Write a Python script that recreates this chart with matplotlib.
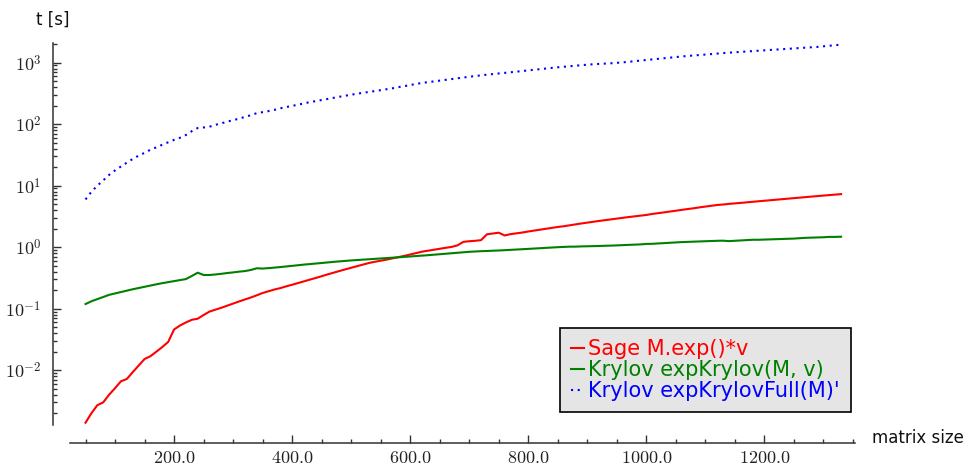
import math

import matplotlib
matplotlib.use('agg')  # headless
import matplotlib.pyplot as plt
from matplotlib.ticker import FixedLocator, FuncFormatter, LogLocator, MultipleLocator, NullFormatter

plt.rcParams['mathtext.fontset'] = 'cm'
plt.rcParams['font.family'] = ['DejaVu Sans']

# matrix sizes n = 50, 60, ..., 1330
matrix_size = list(range(50, 1331, 10))

# runtime in seconds
sage_time = [
    0.0014, 0.0020, 0.0027, 0.0030, 0.0040, 0.0051, 0.0066, 0.0072, 0.0093, 0.0119,
    0.0152, 0.0169, 0.0200, 0.0238, 0.0288, 0.0459, 0.0533, 0.0597, 0.066, 0.0687,
    0.079, 0.0897, 0.0964, 0.1035, 0.112, 0.1216, 0.131, 0.141, 0.152, 0.165,
    0.180, 0.192, 0.205, 0.216, 0.231, 0.245, 0.261, 0.277, 0.295, 0.316,
    0.337, 0.361, 0.385, 0.41, 0.436, 0.462, 0.491, 0.521, 0.553, 0.579,
    0.603, 0.628, 0.657, 0.685, 0.722, 0.761, 0.80, 0.845, 0.877, 0.91,
    0.942, 0.977, 1.01, 1.07, 1.22, 1.25, 1.27, 1.30, 1.62, 1.67,
    1.72, 1.55, 1.63, 1.68, 1.73, 1.80, 1.86, 1.93, 1.99, 2.06,
    2.13, 2.19, 2.27, 2.35, 2.43, 2.51, 2.60, 2.67, 2.75, 2.83,
    2.92, 3.01, 3.09, 3.17, 3.25, 3.34, 3.47, 3.57, 3.68, 3.80,
    3.92, 4.04, 4.17, 4.29, 4.44, 4.57, 4.71, 4.85, 4.94, 5.06,
    5.15, 5.25, 5.37, 5.47, 5.58, 5.71, 5.81, 5.94, 6.06, 6.17,
    6.29, 6.41, 6.53, 6.65, 6.78, 6.90, 7.03, 7.16, 7.29,
]

krylov_time = [
    0.119, 0.132, 0.143, 0.155, 0.168, 0.177, 0.187, 0.197, 0.207, 0.217,
    0.227, 0.238, 0.249, 0.260, 0.270, 0.281, 0.292, 0.303, 0.340, 0.385,
    0.353, 0.353, 0.360, 0.369, 0.380, 0.389, 0.400, 0.409, 0.426, 0.454,
    0.449, 0.456, 0.465, 0.475, 0.486, 0.497, 0.509, 0.521, 0.531, 0.543,
    0.553, 0.566, 0.577, 0.588, 0.601, 0.609, 0.619, 0.627, 0.636, 0.645,
    0.655, 0.665, 0.675, 0.685, 0.695, 0.706, 0.719, 0.730, 0.741, 0.755,
    0.767, 0.782, 0.796, 0.811, 0.826, 0.841, 0.851, 0.861, 0.867, 0.877,
    0.883, 0.893, 0.900, 0.914, 0.925, 0.938, 0.949, 0.963, 0.975, 0.989,
    1.00, 1.01, 1.02, 1.02, 1.03, 1.035, 1.04, 1.045, 1.055, 1.06,
    1.07, 1.08, 1.09, 1.10, 1.11, 1.13, 1.135, 1.15, 1.17, 1.18,
    1.20, 1.21, 1.22, 1.23, 1.24, 1.25, 1.26, 1.27, 1.275, 1.255,
    1.27, 1.28, 1.30, 1.32, 1.32, 1.33, 1.34, 1.345, 1.36, 1.37,
    1.38, 1.40, 1.42, 1.43, 1.44, 1.45, 1.47, 1.47, 1.48,
]

krylov_full_time = [
    5.97, 7.96, 10.0, 12.2, 15.0, 17.7, 20.5, 23.7, 27.2, 30.8,
    34.2, 38.4, 42.0, 46.3, 50.8, 55.6, 60.1, 66.7, 76.9, 86.5,
    88.4, 91.0, 97.5, 103, 110, 116, 123, 131, 140, 151,
    157, 163, 171, 181, 190, 198, 208, 217, 229, 237,
    247, 258, 268, 279, 290, 302, 313, 323, 334, 345,
    357, 369, 383, 400, 415, 433, 451, 468, 482, 497,
    512, 528, 543, 560, 574, 590, 606, 621, 638, 653,
    667, 682, 698, 714, 730, 749, 767, 784, 805, 823,
    841, 858, 877, 894, 911, 928, 942, 952, 966, 977,
    993, 1011, 1034, 1058, 1081, 1106, 1132, 1157, 1180, 1205,
    1233, 1262, 1285, 1310, 1334, 1359, 1385, 1406, 1432, 1455,
    1476, 1500, 1521, 1545, 1567, 1585, 1610, 1633, 1652, 1675,
    1702, 1726, 1754, 1778, 1806, 1841, 1884, 1928, 1968,
]

x_major = [200, 400, 600, 800, 1000, 1200]

W, H = 966, 463
fig = plt.figure(figsize=(W / 100, H / 100), dpi=100)
ax = fig.add_axes([70 / W, 38 / H, 785 / W, 381.7 / H])

ax.plot(matrix_size, sage_time, color='#ff0000', lw=1.5, label='Sage M.exp()*v')
ax.plot(matrix_size, krylov_time, color='#008000', lw=1.5, label='Krylov expKrylov(M, v)')
ax.plot(matrix_size, krylov_full_time, color='#0000ff', lw=1.5, dashes=(1, 2.2),
        label="Krylov expKrylovFull(M)'")

ax.set_yscale('log')
ax.set_xlim(23.7, 1353.5)
ax.set_ylim(0.001285, 2065)

# sage-like axes: only left/bottom, pushed away from the data
for side in ['top', 'right']:
    ax.spines[side].set_visible(False)
ax.spines['left'].set_position(('outward', 17 * 0.72))
ax.spines['bottom'].set_position(('outward', 18 * 0.72))
for side in ['left', 'bottom']:
    ax.spines[side].set_color('#333333')
    ax.spines[side].set_linewidth(1.1)

ax.xaxis.set_major_locator(FixedLocator(x_major))
ax.xaxis.set_major_formatter(FuncFormatter(lambda v, p: r'$%.1f$' % v))
ax.xaxis.set_minor_locator(MultipleLocator(50))
ax.yaxis.set_major_locator(LogLocator(base=10))
ax.yaxis.set_major_formatter(FuncFormatter(lambda v, p: r'$10^{%d}$' % round(math.log10(v))))
ax.yaxis.set_minor_locator(LogLocator(base=10, subs=range(2, 10)))
ax.yaxis.set_minor_formatter(NullFormatter())

ax.tick_params(which='both', direction='in', color='#333333', width=1, labelsize=13, labelcolor='#222222')
ax.tick_params(which='major', length=5.5)
ax.tick_params(which='minor', length=3)
ax.tick_params(axis='x', pad=4)
ax.tick_params(axis='y', pad=8.3)

fig.text(872 / W, 1 - 443 / H, 'matrix size', fontsize=12, color='#111111', va='baseline', ha='left')
fig.text(36 / W, 1 - 25 / H, 't [s]', fontsize=12, color='#111111', va='baseline', ha='left')

leg = ax.legend(loc='upper left', bbox_to_anchor=(560 / W, 1 - 328 / H), bbox_transform=fig.transFigure,
                fontsize=15, handlelength=0.62, handletextpad=0.2, borderpad=0.53,
                labelspacing=0.05, borderaxespad=0, fancybox=False, framealpha=1,
                facecolor='#e5e5e5', edgecolor='black')
leg.get_frame().set_linewidth(1.2)
for txt, line in zip(leg.get_texts(), leg.get_lines()):
    txt.set_color(line.get_color())

plt.savefig('out.png', dpi=100)
